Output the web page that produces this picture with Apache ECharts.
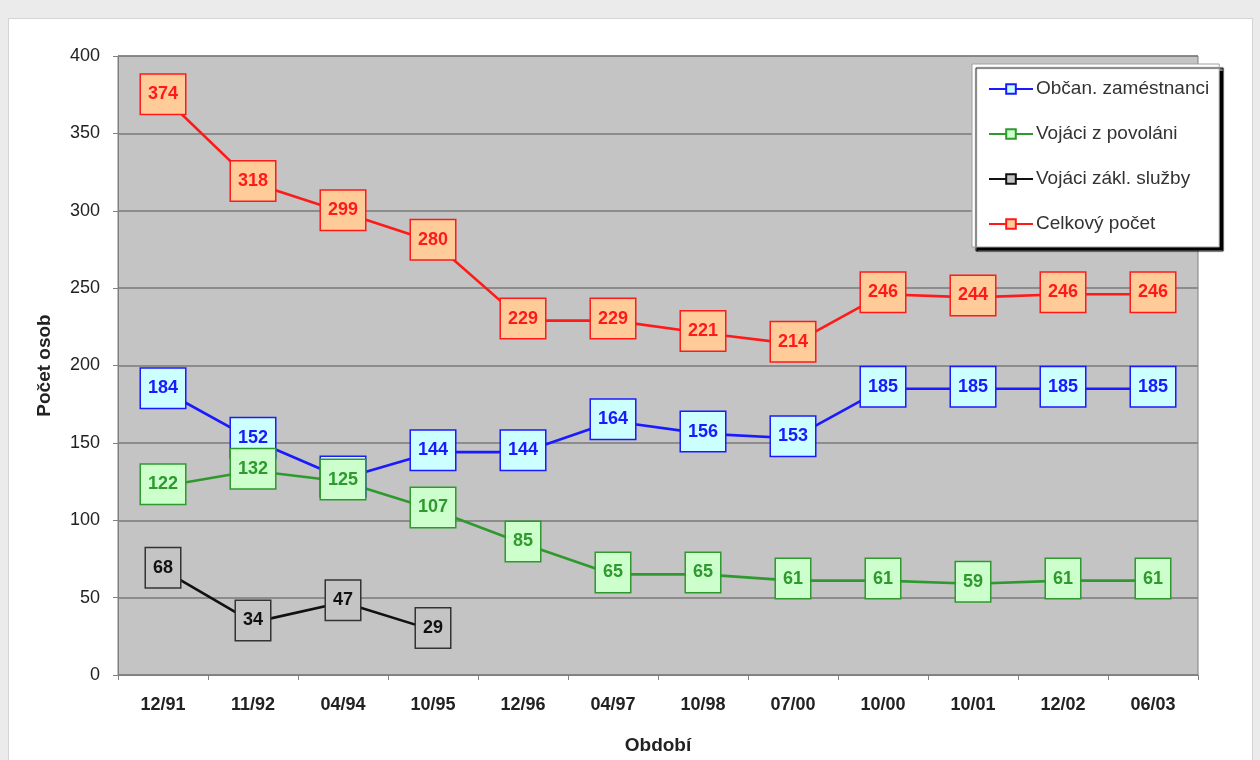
<!DOCTYPE html>
<html>
<head>
<meta charset="utf-8">
<title>Počet osob</title>
<script src="https://cdn.jsdelivr.net/npm/echarts@6/dist/echarts.min.js"></script>
<style>
  html, body { margin: 0; padding: 0; background: #ebebeb; width: 1260px; height: 760px; overflow: hidden; }
  #panel { position: absolute; left: 8px; top: 18px; width: 1245px; height: 760px; background: #ffffff; border: 1px solid #d4d4d4; box-sizing: border-box; }
  #chart { position: absolute; left: 0; top: 0; width: 1260px; height: 760px; }
</style>
</head>
<body>
<div id="panel"></div>
<div id="chart"></div>
<script>
// Periods on the horizontal axis
const categories = ['12/91', '11/92', '04/94', '10/95', '12/96', '04/97', '10/98', '07/00', '10/00', '10/01', '12/02', '06/03'];

// Headcount per group
const obcanZamestnanci = [184, 152, 127, 144, 144, 164, 156, 153, 185, 185, 185, 185];
const vojaciZPovolani  = [122, 132, 125, 107, 85, 65, 65, 61, 61, 59, 61, 61];
const vojaciZaklSluzby = [68, 34, 47, 29, null, null, null, null, null, null, null, null];
const celkovyPocet     = [374, 318, 299, 280, 229, 229, 221, 214, 246, 244, 246, 246];

const seriesNames = ['Občan. zaméstnanci', 'Vojáci z povoláni', 'Vojáci zákl. služby', 'Celkový počet'];

const FONT = '"Liberation Sans", Arial, sans-serif';

function lineSeries(name, data, lineColor, fillColor, textColor, borderColor) {
  return {
    name: name,
    type: 'line',
    data: data,
    symbol: 'rect',
    symbolSize: 10,
    connectNulls: false,
    itemStyle: { color: fillColor, borderColor: lineColor, borderWidth: 1.5 },
    lineStyle: { color: lineColor, width: 2.6 },
    emphasis: { disabled: true },
    label: {
      show: true,
      position: 'inside',
      offset: [0, -2],
      fontFamily: FONT,
      fontSize: 18,
      fontWeight: 'bold',
      lineHeight: 18,
      color: textColor,
      backgroundColor: fillColor,
      borderColor: borderColor,
      borderWidth: 1.5,
      padding: [11, 7, 10, 7]
    }
  };
}

const chart = echarts.init(document.getElementById('chart'), null, { renderer: 'canvas' });

chart.setOption({
  backgroundColor: 'transparent',
  animation: false,
  grid: {
    left: 118, right: 62, top: 56, bottom: 83,
    show: true,
    backgroundColor: '#c4c4c4',
    borderColor: '#808080',
    borderWidth: 1
  },
  legend: {
    orient: 'vertical',
    left: 972,
    top: 64,
    data: seriesNames,
    backgroundColor: '#ffffff',
    borderColor: '#a0a0a0',
    borderWidth: 1,
    shadowColor: '#000000',
    shadowBlur: 1,
    shadowOffsetX: 4,
    shadowOffsetY: 4,
    padding: [15, 10, 13, 16],
    itemWidth: 44,
    itemHeight: 12,
    itemGap: 25,
    textStyle: { fontFamily: FONT, fontSize: 19, lineHeight: 20, color: '#333333', padding: [0, 0, 0, -2] }
  },
  xAxis: {
    type: 'category',
    data: categories,
    boundaryGap: true,
    name: 'Období',
    nameLocation: 'middle',
    nameGap: 61,
    nameTextStyle: { fontFamily: FONT, fontSize: 19, fontWeight: 'bold', color: '#222222' },
    axisLine: { show: true, lineStyle: { color: '#808080', width: 1 } },
    axisTick: { show: true, length: 5, alignWithLabel: false, lineStyle: { color: '#808080' } },
    axisLabel: { fontFamily: FONT, fontSize: 18, fontWeight: 'bold', color: '#222222', margin: 21 },
    splitLine: { show: false }
  },
  yAxis: {
    type: 'value',
    min: 0,
    max: 400,
    interval: 50,
    name: 'Počet osob',
    nameLocation: 'middle',
    nameGap: 64,
    nameRotate: 90,
    nameTextStyle: { fontFamily: FONT, fontSize: 19, fontWeight: 'bold', color: '#222222' },
    axisLine: { show: true, lineStyle: { color: '#808080', width: 1 } },
    axisTick: { show: true, length: 5, lineStyle: { color: '#808080' } },
    axisLabel: { fontFamily: FONT, fontSize: 18, color: '#222222', margin: 18 },
    splitLine: { show: true, lineStyle: { color: '#7a7a7a', width: 1.5 } }
  },
  series: [
    lineSeries(seriesNames[0], obcanZamestnanci, '#1a1aff', '#ccffff', '#1a1aff', '#1a1aff'),
    lineSeries(seriesNames[1], vojaciZPovolani, '#2e9a2e', '#ccffcc', '#2e9a2e', '#2e9a2e'),
    lineSeries(seriesNames[2], vojaciZaklSluzby, '#111111', '#c4c4c4', '#111111', '#333333'),
    lineSeries(seriesNames[3], celkovyPocet, '#ff1a1a', '#ffcc99', '#ff1a1a', '#ff1a1a')
  ]
});
</script>
</body>
</html>
